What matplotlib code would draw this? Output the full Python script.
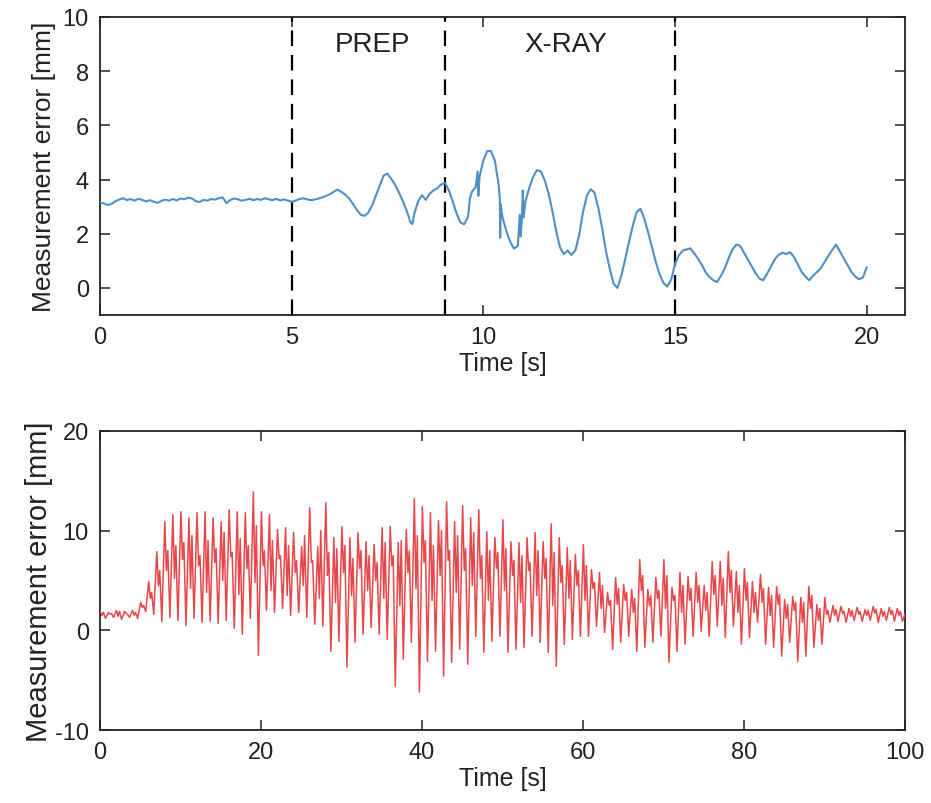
import matplotlib
matplotlib.use('Agg')
import matplotlib.pyplot as plt

plt.rcParams['font.family'] = ['Liberation Sans Narrow', 'Liberation Sans', 'DejaVu Sans']
plt.rcParams['axes.unicode_minus'] = False

# ---------------- top panel data (time [s], error [mm]) ----------------
top_t = [0.0, 0.1, 0.2, 0.3, 0.4, 0.5, 0.6, 0.7, 0.8, 0.9, 1.0, 1.1, 1.2, 1.3, 1.4, 1.5, 1.6, 1.7, 1.8, 1.9,
         2.0, 2.1, 2.2, 2.3, 2.4, 2.5, 2.6, 2.7, 2.8, 2.9, 3.0, 3.1, 3.2, 3.3, 3.4, 3.5, 3.6, 3.7, 3.8, 3.9,
         4.0, 4.1, 4.2, 4.3, 4.4, 4.5, 4.6, 4.7, 4.8, 4.9, 5.0, 5.1, 5.2, 5.3, 5.4, 5.5, 5.6, 5.7, 5.8, 5.9,
         6.0, 6.1, 6.2, 6.3, 6.4, 6.5, 6.6, 6.7, 6.8, 6.9, 7.0, 7.1, 7.2, 7.3, 7.4, 7.5, 7.6, 7.7, 7.8, 7.9,
         8.0, 8.1, 8.15, 8.2, 8.3, 8.4, 8.5, 8.6, 8.7, 8.8, 8.9, 9.0, 9.1, 9.2, 9.3, 9.4, 9.5, 9.6, 9.65, 9.7,
         9.8, 9.85, 9.87, 9.9, 10.0, 10.1, 10.2, 10.3, 10.4, 10.43, 10.44, 10.45, 10.5, 10.6, 10.7, 10.8,
         10.9, 10.95, 10.97, 11.0, 11.03, 11.05, 11.1, 11.2, 11.3, 11.4, 11.5, 11.6, 11.7, 11.8, 11.9,
         12.0, 12.1, 12.2, 12.3, 12.4, 12.5, 12.6, 12.7, 12.8, 12.9, 13.0, 13.1, 13.2, 13.3, 13.4, 13.5,
         13.6, 13.7, 13.8, 13.9, 14.0, 14.1, 14.2, 14.3, 14.4, 14.5, 14.6, 14.7, 14.8, 14.9, 15.0, 15.1,
         15.2, 15.3, 15.4, 15.5, 15.6, 15.7, 15.8, 15.9, 16.0, 16.1, 16.2, 16.3, 16.4, 16.5, 16.6, 16.7,
         16.8, 16.9, 17.0, 17.1, 17.2, 17.3, 17.4, 17.5, 17.6, 17.7, 17.8, 17.9, 18.0, 18.1, 18.2, 18.3,
         18.4, 18.5, 18.6, 18.7, 18.8, 18.9, 19.0, 19.1, 19.2, 19.3, 19.4, 19.5, 19.6, 19.7, 19.8, 19.9, 20.0]
top_v = [3.15, 3.12, 3.06, 3.10, 3.20, 3.26, 3.31, 3.24, 3.28, 3.22, 3.29, 3.25, 3.19, 3.24, 3.18, 3.14, 3.21, 3.26, 3.22, 3.28,
         3.23, 3.30, 3.27, 3.33, 3.30, 3.20, 3.17, 3.25, 3.22, 3.28, 3.26, 3.31, 3.34, 3.13, 3.25, 3.30, 3.27, 3.22, 3.25, 3.29,
         3.24, 3.28, 3.25, 3.31, 3.27, 3.24, 3.29, 3.23, 3.27, 3.22, 3.18, 3.22, 3.28, 3.31, 3.27, 3.24, 3.26, 3.30, 3.34, 3.40,
         3.46, 3.55, 3.63, 3.54, 3.44, 3.30, 3.10, 2.88, 2.70, 2.66, 2.78, 3.05, 3.42, 3.80, 4.15, 4.22, 4.02, 3.80, 3.52, 3.20,
         2.85, 2.42, 2.36, 2.75, 3.20, 3.42, 3.25, 3.48, 3.60, 3.68, 3.82, 3.88, 3.60, 3.20, 2.75, 2.42, 2.35, 2.62, 3.30, 3.55,
         3.72, 4.30, 3.40, 4.10, 4.70, 5.05, 5.05, 4.70, 3.80, 3.30, 1.85, 3.10, 2.60, 2.10, 1.70, 1.45,
         1.55, 2.70, 1.90, 2.40, 3.60, 2.60, 3.20, 3.70, 4.10, 4.35, 4.30, 3.98, 3.50, 2.85, 2.10,
         1.50, 1.25, 1.38, 1.22, 1.38, 1.95, 2.80, 3.40, 3.64, 3.52, 2.95, 2.20, 1.35, 0.70, 0.15, 0.00,
         0.45, 1.05, 1.70, 2.30, 2.80, 2.92, 2.55, 2.05, 1.50, 0.95, 0.50, 0.18, 0.05, 0.30, 0.88, 1.20,
         1.38, 1.42, 1.46, 1.28, 1.08, 0.85, 0.58, 0.40, 0.28, 0.22, 0.45, 0.72, 1.10, 1.42, 1.60, 1.55,
         1.30, 1.05, 0.80, 0.55, 0.35, 0.28, 0.52, 0.78, 1.05, 1.22, 1.30, 1.25, 1.32, 1.15, 0.88, 0.60,
         0.42, 0.28, 0.45, 0.58, 0.72, 0.95, 1.18, 1.40, 1.60, 1.35, 1.10, 0.85, 0.60, 0.42, 0.32, 0.38, 0.75]
phase_bounds = [5, 9, 15]
phase_labels = ['PREP', 'X-RAY']
phase_label_t = [7.1, 12.15]

# ---------------- bottom panel data: one oscillation per second ----------------
bot_peaks = [1.9, 1.8, 2.0, 1.9, 2.0, 2.8, 4.9, 7.9, 10.9, 11.6,
             11.9, 11.3, 11.8, 11.9, 11.3, 10.9, 12.1, 11.9, 11.8, 13.9,
             11.9, 11.6, 10.1, 10.3, 9.8, 8.4, 12.3, 8.4, 12.8, 9.3,
             10.4, 9.3, 9.8, 8.9, 8.6, 10.3, 10.4, 8.8, 10.1, 13.2,
             12.4, 11.8, 11.0, 12.9, 10.9, 12.5, 11.3, 12.1, 9.9, 9.3,
             11.1, 8.9, 8.8, 9.3, 9.8, 8.9, 10.7, 9.3, 8.3, 7.6,
             8.6, 6.1, 5.8, 3.8, 5.3, 4.6, 4.1, 7.1, 4.1, 5.3,
             7.1, 4.3, 5.8, 5.4, 5.8, 4.5, 6.9, 6.9, 7.9, 5.9,
             6.2, 4.9, 5.6, 4.3, 4.4, 3.1, 3.4, 3.3, 4.4, 2.6,
             3.3, 2.5, 2.4, 2.2, 2.3, 2.1, 2.4, 2.2, 2.3, 2.2]
bot_mids = [1.5, 1.6, 1.4, 1.7, 1.5, 2.3, 3.2, 4.5, 6.0, 5.2,
            7.1, 4.2, 6.5, 3.8, 6.8, 5.0, 7.4, 3.6, 6.2, 4.8,
            6.5, 4.0, 7.2, 3.5, 5.8, 4.5, 6.8, 3.2, 5.5, 2.8,
            5.8, 3.5, 6.2, 4.0, 5.0, 3.2, 6.5, 2.5, 5.8, 4.2,
            6.8, 3.0, 5.5, 7.0, 3.8, 6.0, 4.5, 5.2, 3.0, 6.2,
            4.0, 5.5, 2.8, 6.0, 3.5, 5.2, 2.5, 4.8, 3.2, 4.5,
            3.0, 4.2, 2.2, 2.5, 2.6, 3.0, 1.8, 4.0, 2.5, 3.2,
            2.2, 3.0, 1.8, 3.0, 2.8, 2.0, 3.6, 2.5, 3.8, 1.8,
            3.0, 1.8, 2.8, 1.5, 2.6, 1.2, 2.0, 0.8, 2.2, 1.0,
            1.6, 1.5, 1.7, 1.4, 1.6, 1.5, 1.7, 1.4, 1.6, 1.5]
bot_rebounds = [1.8, 1.7, 1.9, 1.6, 1.8, 2.5, 3.8, 6.0, 8.0, 8.5,
                8.8, 9.5, 7.5, 9.0, 8.2, 9.8, 7.8, 9.2, 8.5, 10.5,
                8.0, 9.0, 7.5, 8.5, 7.0, 9.5, 7.0, 10.0, 7.8, 8.2,
                8.5, 7.2, 8.0, 7.5, 6.8, 8.8, 7.5, 9.0, 8.0, 9.5,
                9.0, 8.5, 10.0, 8.0, 9.5, 8.2, 9.8, 7.5, 8.0, 7.8,
                8.2, 7.0, 7.5, 6.8, 8.0, 7.2, 7.8, 6.5, 7.0, 6.0,
                6.5, 4.8, 4.5, 3.0, 4.2, 3.8, 3.2, 5.5, 3.5, 4.0,
                5.5, 3.5, 4.5, 4.2, 4.5, 3.8, 5.5, 5.2, 6.0, 4.5,
                4.8, 3.8, 4.2, 3.5, 3.6, 2.6, 2.8, 2.8, 3.5, 2.2,
                2.0, 2.1, 1.9, 2.0, 1.9, 2.0, 2.1, 1.9, 2.0, 1.9]
bot_troughs = [1.2, 1.3, 1.1, 1.3, 1.2, 1.9, 1.6, 0.9, 1.3, 1.0,
               0.5, 1.2, 0.8, 0.9, 0.7, 1.0, 0.2, -0.4, 1.2, -2.5,
               2.0, 1.8, 2.2, 1.5, 1.8, 1.3, 0.6, 0.4, -2.1, -1.1,
               -3.7, -1.2, -0.4, 0.3, -0.4, -0.9, -5.6, -2.9, -1.2, -6.2,
               -3.1, -2.1, -4.6, -3.2, -1.9, -3.4, -0.6, -2.2, -1.1, -0.6,
               -2.2, -1.9, -1.7, -0.6, -1.2, -2.2, -3.6, -1.4, -0.9, -0.6,
               -0.6, 0.4, -0.2, -1.9, -1.2, -0.6, -2.1, -1.7, -1.2, -0.6,
               -3.2, -2.1, -1.4, -0.6, -0.1, -0.6, 0.4, -0.7, 0.4, -1.4,
               -0.7, 0.8, -1.4, -1.7, -2.6, -1.2, -3.1, -2.6, -1.7, -1.4,
               0.8, 0.9, 0.8, 1.0, 0.9, 1.0, 0.8, 1.0, 0.9, 0.9]
bot_end = 1.6

blue = '#4f8fc6'
red = '#e8474a'
dark = '#222222'

fig = plt.figure(figsize=(9.31, 8.04), dpi=100)
ax1 = fig.add_axes([100 / 931, 1 - 316 / 804, 805 / 931, 298 / 804])
ax2 = fig.add_axes([100 / 931, 1 - 731 / 804, 805 / 931, 299 / 804])

# top panel
ax1.plot(top_t, top_v, color=blue, lw=1.5, zorder=3)
for b in phase_bounds:
    ax1.axvline(b, color='black', lw=1.6, ls=(0, (7, 4)), zorder=2)
for lab, tx in zip(phase_labels, phase_label_t):
    ax1.text(tx, 9.0, lab, ha='center', va='center', fontsize=20, color='#222222')
ax1.set_xlim(0, 21)
ax1.set_ylim(-1, 10)
ax1.set_xticks([0, 5, 10, 15, 20])
ax1.set_yticks([0, 2, 4, 6, 8, 10])
ax1.set_xlabel('Time [s]', fontsize=18, labelpad=2)
ax1.set_ylabel('Measurement error [mm]', fontsize=19, labelpad=5)

# bottom panel
bt, bv = [], []
for k in range(len(bot_peaks)):
    bt += [k + 0.05, k + 0.25, k + 0.42, k + 0.68]
    bv += [bot_peaks[k], bot_mids[k], bot_rebounds[k], bot_troughs[k]]
bt.append(100.0)
bv.append(bot_end)
ax2.plot(bt, bv, color=red, lw=1.1, zorder=3)
ax2.set_xlim(0, 100)
ax2.set_ylim(-10, 20)
ax2.set_xticks([0, 20, 40, 60, 80, 100])
ax2.set_yticks([-10, 0, 10, 20])
ax2.set_xlabel('Time [s]', fontsize=18, labelpad=2)
ax2.set_ylabel('Measurement error [mm]', fontsize=21, labelpad=1)

for ax in (ax1, ax2):
    ax.tick_params(direction='in', top=True, right=True, length=7, width=1.1,
                   labelsize=17, pad=8, colors=dark, labelcolor='#222222')
    for s in ax.spines.values():
        s.set_linewidth(1.3)
        s.set_color(dark)
    ax.xaxis.label.set_color('#222222')
    ax.yaxis.label.set_color('#222222')

fig.savefig('out.png', dpi=100)
